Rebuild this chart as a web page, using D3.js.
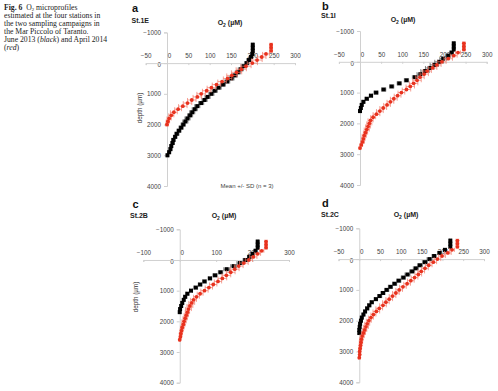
<!DOCTYPE html>
<html><head><meta charset="utf-8">
<script src="https://cdn.jsdelivr.net/npm/d3@7/dist/d3.min.js"></script>
<style>body{margin:0;background:#fff}svg{display:block}</style>
</head><body>
<svg id="c" width="498" height="391"></svg>
<script>
// shared depth grid (µm)
const depths = [-600,-500,-400,-300,-200,-100,0,100,200,300,400,500,600,700,800,900,1000,1100,1200,1300,1400,1500,1600,1700,1800,1900,2000,2100,2200,2300,2400,2500,2600,2700,2800,2900,3000,3100,3200];
const yTicks = [-1000,0,1000,2000,3000,4000];
const xTicksA = [-50,0,50,100,150,200,250,300];
const xTicksC = [-100,0,100,200,300];
const stations = ["St.1E","St.1I","St.2B","St.2C"];
const letters = ["a","b","c","d"];

// O2 (µM), June 2013 (black) and April 2014 (red)
const blackA = [201,201,201,200,197,192,187,180,173,166,159,151,141,131,121,112,104,95,88,80,71,65,59,54,48,43,38,33,28,23,19,15,13,10,8,5,1];
const redA   = [244,244,244,232,222,211,200,185,174,163,152,142,129,116,104,93,80,71,58,48,37,26,16,10,5,2,0];
const blackB = [222,222,222,217,209,197,187,176,165,154,143,130,110,93,75,56,38,26,16,8,4,2,0];
const redB   = [246,246,246,232,222,209,194,182,172,159,152,142,135,127,119,110,98,89,80,72,64,55,47,39,31,25,22,19,16,13,10,8,6,3,0];
const blackC = [214,214,214,208,200,191,180,165,148,129,112,97,83,68,56,44,31,21,15,11,7,4,1,0];
const redC   = [237,237,237,225,214,202,190,176,162,151,140,128,117,105,92,80,68,56,46,38,33,28,24,21,18,15,12,10,7,5,3,2,0];
const blackD = [219,219,219,206,193,180,169,158,146,136,127,116,106,95,85,75,66,57,49,40,30,24,19,14,10,6,4,2,1,0,0];
const redD   = [236,236,236,223,213,199,188,178,167,158,149,142,133,124,115,105,96,88,80,72,64,57,48,41,34,28,23,19,16,13,10,7,5,4,3,2,1,1,0];

// standard deviations (µM)
const sdBlackA = [2,2,2,3,4,5,5,6,6,6,6,6,6,6,6,6,6,6,6,6,6,6,6,6,6,6,5,5,5,5,4,4,4,3,3,3,2];
const sdRedA   = [3,3,3,8,10,12,12,12,12,12,12,10,10,10,10,10,10,10,10,10,10,8,8,6,5,4,3];
const sdBlackB = [2,2,2,4,6,8,10,10,10,10,8,6,5,5,5,5,5,4,4,3,3,2,2];
const sdRedB   = [3,3,3,6,8,10,10,10,10,10,10,10,10,10,10,10,8,8,8,8,8,8,8,8,6,6,6,6,6,5,5,4,4,3,2];
const sdBlackC = [2,2,2,3,4,5,6,8,8,8,6,6,5,5,5,5,4,4,4,3,3,2,2,2];
const sdRedC   = [3,3,3,6,8,10,10,12,12,12,12,12,12,10,10,10,10,8,8,8,8,8,8,6,6,6,6,5,5,4,4,3,2];
const sdBlackD = [2,2,2,3,4,5,6,6,6,6,6,6,5,5,5,5,5,5,5,4,4,4,4,3,3,3,3,2,2,2,2];
const sdRedD   = [3,3,3,6,8,8,8,8,8,8,8,8,8,8,8,8,8,8,8,8,8,8,8,8,6,6,6,6,6,5,5,5,4,4,3,3,2,2,2];

const svg = d3.select("#c");
const font = "Liberation Sans, Arial, sans-serif";

// caption
const capLines = [
  [["Fig. 6","bold"],["  O",""],["2","sub"],[" microprofiles","after"]],
  [["estimated at the four stations in",""]],
  [["the two sampling campaigns in",""]],
  [["the Mar Piccolo of Taranto.",""]],
  [["June 2013 (",""],["black","it"],[") and April 2014",""]],
  [["(",""],["red","it"],[")",""]]
];
capLines.forEach((ln,i)=>{
  const t = svg.append("text").attr("x",4).attr("y",9.5+i*8)
    .attr("font-family","Liberation Serif, Times New Roman, serif").attr("font-size",7.7)
    .attr("fill","#222").attr("xml:space","preserve");
  ln.forEach(([s,st])=>{
    const ts = t.append("tspan").text(s);
    if(st==="bold") ts.attr("font-weight","bold");
    if(st==="it") ts.attr("font-style","italic");
    if(st==="sub") ts.attr("font-size",4.8).attr("dy",1.0);
    if(st==="after") ts.attr("dy",-1.0);
  });
});

const panels = [
  {x0:145.7, x1:295,   xd:[-50,300],  xt:xTicksA, yTop:32.4, yBot:186,   black:blackA, red:redA, sdB:sdBlackA, sdR:sdRedA,
   letter:[132,12], st:[131.5,23], title:[230,25], depth:[140,108], mean:true},
  {x0:338.9, x1:486.7, xd:[-50,300],  xt:xTicksA, yTop:31,   yBot:185,   black:blackB, red:redB, sdB:sdBlackB, sdR:sdRedB,
   letter:[322,9.5],  st:[321,18], title:[403,22], depth:null},
  {x0:143.3, x1:289,   xd:[-100,300], xt:xTicksC, yTop:229.3,yBot:382.7, black:blackC, red:redC, sdB:sdBlackC, sdR:sdRedC,
   letter:[132.5,208], st:[130,218], title:[224,218], depth:[136,297]},
  {x0:338.5, x1:484,   xd:[-50,300],  xt:xTicksA, yTop:228.3,yBot:382.3, black:blackD, red:redD, sdB:sdBlackD, sdR:sdRedD,
   letter:[322,207], st:[321,217], title:[406,217], depth:null}
];

panels.forEach((p,i)=>{
  const g = svg.append("g");
  const x = d3.scaleLinear().domain(p.xd).range([p.x0,p.x1]);
  const y = d3.scaleLinear().domain([-1000,4000]).range([p.yTop,p.yBot]);
  const ax = x(0), ay = y(0);

  const yAx = g.append("g").attr("transform",`translate(${ax},0)`)
    .call(d3.axisLeft(y).tickValues(yTicks).tickSize(3).tickPadding(3).tickFormat(d3.format("d")));
  const xAx = g.append("g").attr("transform",`translate(0,${ay})`)
    .call(d3.axisBottom(x).tickValues(p.xt).tickSize(2).tickFormat(d3.format("d")));
  [yAx,xAx].forEach(a=>{
    a.select(".domain").attr("stroke","#d0d0d0").attr("stroke-width",1);
    a.selectAll(".tick line").attr("stroke","#d0d0d0");
    a.selectAll("text").attr("font-family",font).attr("font-size",6.3).attr("fill","#444");
  });
  xAx.selectAll(".tick text").attr("y",-9.5).attr("dy","0.71em");
  xAx.selectAll(".tick").filter(d=>d===0).select("text").attr("dx",2);
  yAx.selectAll(".tick").filter(d=>d===0).select("text").attr("dy","0.6em");

  const series = [
    {vals:p.black, sd:p.sdB, color:"#000", bar:"#555", shape:"sq"},
    {vals:p.red,   sd:p.sdR, color:"#e8321e", bar:"#f07a6a", shape:"ci"}
  ];
  series.forEach(s=>{
    const pts = s.vals.map((v,k)=>({o:v, d:depths[k], sd:s.sd[k]}));
    const eg = g.append("g").attr("stroke",s.bar).attr("stroke-width",0.7);
    pts.forEach(q=>{
      const cy = y(q.d);
      eg.append("line").attr("x1",x(q.o-q.sd)).attr("x2",x(q.o+q.sd)).attr("y1",cy).attr("y2",cy);
      eg.append("line").attr("x1",x(q.o-q.sd)).attr("x2",x(q.o-q.sd)).attr("y1",cy-2).attr("y2",cy+2);
      eg.append("line").attr("x1",x(q.o+q.sd)).attr("x2",x(q.o+q.sd)).attr("y1",cy-2).attr("y2",cy+2);
    });
    if(s.shape==="sq"){
      g.append("g").selectAll("rect").data(pts).join("rect")
        .attr("x",q=>x(q.o)-2).attr("y",q=>y(q.d)-2).attr("width",4).attr("height",4).attr("fill",s.color);
    } else {
      g.append("g").selectAll("circle").data(pts).join("circle")
        .attr("cx",q=>x(q.o)).attr("cy",q=>y(q.d)).attr("r",1.9).attr("fill",s.color);
    }
  });

  svg.append("text").attr("x",p.letter[0]).attr("y",p.letter[1]).text(letters[i])
    .attr("font-family",font).attr("font-weight","bold").attr("font-size",11).attr("fill","#111");
  svg.append("text").attr("x",p.st[0]).attr("y",p.st[1]).text(stations[i])
    .attr("font-family",font).attr("font-weight","bold").attr("font-size",7).attr("fill","#222");
  const tt = svg.append("text").attr("x",p.title[0]).attr("y",p.title[1]).attr("text-anchor","middle")
    .attr("font-family",font).attr("font-weight","bold").attr("font-size",7).attr("fill","#222");
  tt.append("tspan").text("O");
  tt.append("tspan").text("2").attr("font-size",5).attr("dy",1.5);
  tt.append("tspan").text(" (µM)").attr("dy",-1.5);
  if(p.depth){
    svg.append("text").attr("transform",`translate(${p.depth[0]},${p.depth[1]}) rotate(-90)`)
      .attr("text-anchor","middle").attr("dy","0.35em").text("depth (µm)")
      .attr("font-family",font).attr("font-size",6.3).attr("fill","#333");
  }
  if(p.mean){
    svg.append("text").attr("x",247).attr("y",188).attr("text-anchor","middle").text("Mean +/- SD (n = 3)")
      .attr("font-family",font).attr("font-size",6).attr("fill","#444");
  }
});
</script>
</body></html>
